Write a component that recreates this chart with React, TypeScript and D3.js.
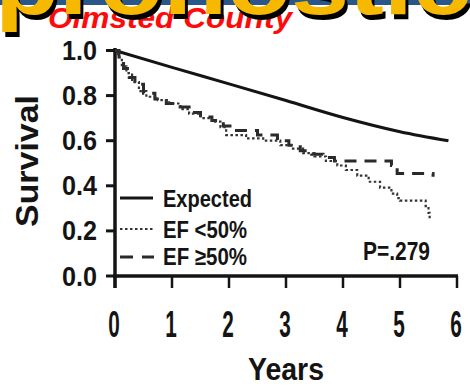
import React from "react";
import * as d3 from "d3";

// Kaplan–Meier survival, EF < 50% (years, survival)
const efLowYears = [0, 0.05, 0.12, 0.2, 0.3, 0.42, 0.55, 0.75, 0.95, 1.15, 1.3, 1.5, 1.7, 1.85, 1.95, 2.3, 2.6, 2.9, 3.1, 3.3, 3.5, 3.7, 3.9, 4.05, 4.25, 4.45, 4.65, 4.85, 4.95, 5.0, 5.45, 5.5, 5.52, 5.55];
const efLowSurv = [1.0, 0.97, 0.93, 0.9, 0.86, 0.82, 0.795, 0.78, 0.765, 0.74, 0.72, 0.7, 0.685, 0.66, 0.625, 0.61, 0.6, 0.58, 0.565, 0.545, 0.53, 0.51, 0.49, 0.47, 0.445, 0.418, 0.392, 0.365, 0.345, 0.334, 0.31, 0.28, 0.255, 0.255];

// Kaplan–Meier survival, EF ≥ 50%
const efHighYears = [0, 0.07, 0.15, 0.25, 0.35, 0.5, 0.7, 0.9, 1.1, 1.3, 1.5, 1.7, 1.9, 2.05, 2.5, 2.85, 3.05, 3.25, 3.45, 3.65, 3.85, 4.85, 4.95, 5.58];
const efHighSurv = [1.0, 0.96, 0.92, 0.88, 0.85, 0.81, 0.785, 0.765, 0.75, 0.725, 0.705, 0.69, 0.665, 0.645, 0.625, 0.6, 0.58, 0.555, 0.54, 0.525, 0.51, 0.49, 0.455, 0.44];

// Expected survival of the age/sex-matched population
const expectedYears = [0, 1, 2, 3, 4, 5, 5.85];
const expectedSurv = [1.0, 0.925, 0.852, 0.778, 0.703, 0.64, 0.6];

const xTicks = [0, 1, 2, 3, 4, 5, 6];
const yTicks = [0, 0.2, 0.4, 0.6, 0.8, 1.0];

const legendLabels = ["Expected", "EF <50%", "EF \u226550%"];
const titleText = "pronostic";
const subtitleText = "Olmsted County";
const pValueText = "P=.279";

const FONT = "'Liberation Sans', Arial, Helvetica, sans-serif";
const INK = "#141414";

export default function App() {
  const x = d3.scaleLinear().domain([0, 6]).range([115, 457]);
  const y = d3.scaleLinear().domain([0, 1]).range([276, 50.5]);

  const step = d3
    .line<[number, number]>()
    .x((d) => x(d[0]))
    .y((d) => y(d[1]))
    .curve(d3.curveStepAfter);
  const smooth = d3
    .line<[number, number]>()
    .x((d) => x(d[0]))
    .y((d) => y(d[1]))
    .curve(d3.curveMonotoneX);

  const zip = (a: number[], b: number[]) => a.map((v, i) => [v, b[i]] as [number, number]);
  const lowPath = step(zip(efLowYears, efLowSurv)) || "";
  const highPath = step(zip(efHighYears, efHighSurv)) || "";
  const expPath = smooth(zip(expectedYears, expectedSurv)) || "";

  const legendY = [198, 229, 257];
  const legendBase = [207, 238, 265];
  const legendWidths = [89, 84, 84];

  return (
    <svg
      width={470}
      height={387}
      viewBox="0 0 470 387"
      style={{ position: "absolute", left: 0, top: 0, background: "#fff" }}
      fontFamily={FONT}
    >
      <rect x={0} y={0} width={470} height={387} fill="#fff" />

      {/* slide header */}
      <rect x={0} y={0} width={470} height={5} fill="#2a578a" />
      <text
        x={48}
        y={28}
        fontSize={30}
        fontWeight="bold"
        fontStyle="italic"
        fill="#ff0a0a"
        textLength={244}
        lengthAdjust="spacingAndGlyphs"
      >
        {subtitleText}
      </text>
      <text x={-2} y={18.5} fontSize={88} fontWeight="bold" fill="#000" textLength={476} lengthAdjust="spacingAndGlyphs">
        {titleText}
      </text>
      <text x={-5} y={14} fontSize={88} fontWeight="bold" fill="#f7b900" textLength={476} lengthAdjust="spacingAndGlyphs">
        {titleText}
      </text>

      {/* axes */}
      <line x1={115} x2={115} y1={48} y2={288} stroke={INK} strokeWidth={3.5} />
      <line x1={113} x2={x(6) + 1} y1={y(0)} y2={y(0)} stroke={INK} strokeWidth={3.5} />
      {yTicks.map((t) => (
        <g key={"y" + t}>
          <line x1={106} x2={115} y1={y(t)} y2={y(t)} stroke={INK} strokeWidth={3} />
          <text
            x={97}
            y={y(t) + 9.5}
            fontSize={27}
            fontWeight="bold"
            fill={INK}
            textAnchor="end"
            textLength={35}
            lengthAdjust="spacingAndGlyphs"
          >
            {t.toFixed(1)}
          </text>
        </g>
      ))}
      {xTicks.map((t) => (
        <g key={"x" + t}>
          <line x1={x(t)} x2={x(t)} y1={y(0)} y2={288} stroke={INK} strokeWidth={2.5} />
          <text
            transform={`translate(${x(t) - 1},337) scale(0.56,1)`}
            fontSize={37}
            fontWeight="bold"
            fill={INK}
            textAnchor="middle"
          >
            {t}
          </text>
        </g>
      ))}

      {/* axis titles */}
      <text
        x={x(3)}
        y={380}
        fontSize={32}
        fontWeight="bold"
        fill={INK}
        textAnchor="middle"
        textLength={76}
        lengthAdjust="spacingAndGlyphs"
      >
        Years
      </text>
      <text
        transform={`translate(38,161) rotate(-90)`}
        fontSize={32}
        fontWeight="bold"
        fill={INK}
        textAnchor="middle"
        textLength={132}
        lengthAdjust="spacingAndGlyphs"
      >
        Survival
      </text>

      {/* survival curves */}
      <path d={expPath} fill="none" stroke={INK} strokeWidth={3} />
      <path d={highPath} fill="none" stroke="#2a2a2a" strokeWidth={3} strokeDasharray="12 8" />
      <path d={lowPath} fill="none" stroke="#333" strokeWidth={2.2} strokeDasharray="2.5 2.5" />

      {/* legend */}
      <line x1={120} x2={153} y1={legendY[0]} y2={legendY[0]} stroke={INK} strokeWidth={3} />
      <line x1={120} x2={154} y1={legendY[1]} y2={legendY[1]} stroke="#333" strokeWidth={2.2} strokeDasharray="2.5 2.5" />
      <line x1={120} x2={154} y1={legendY[2]} y2={legendY[2]} stroke="#2a2a2a" strokeWidth={3} strokeDasharray="13 9" />
      {legendLabels.map((label, i) => (
        <text
          key={label}
          x={163}
          y={legendBase[i]}
          fontSize={24}
          fontWeight="bold"
          fill={INK}
          textLength={legendWidths[i]}
          lengthAdjust="spacingAndGlyphs"
        >
          {label}
        </text>
      ))}
      <text x={363} y={260} fontSize={25} fontWeight="bold" fill={INK} textLength={67} lengthAdjust="spacingAndGlyphs">
        {pValueText}
      </text>
    </svg>
  );
}
